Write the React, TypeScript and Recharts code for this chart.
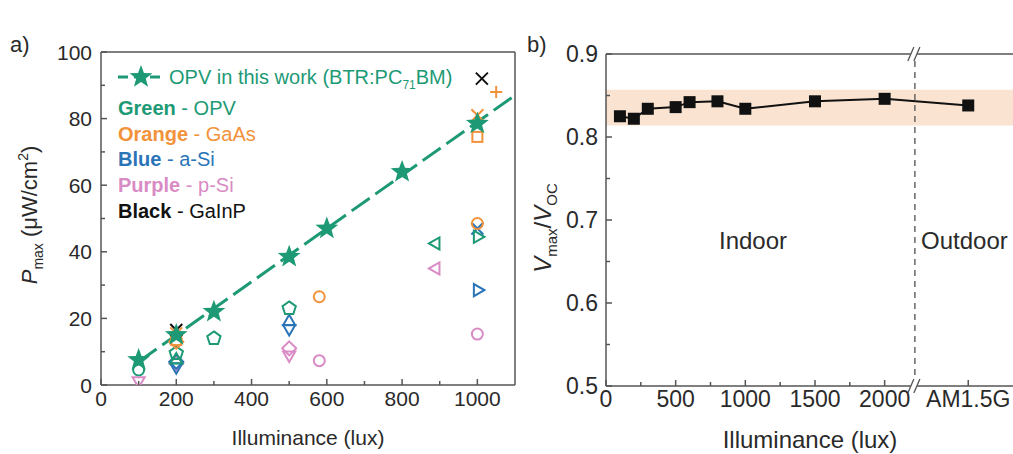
import React from 'react';
import {
  ComposedChart, Scatter, Line, XAxis, YAxis,
  ReferenceLine, ReferenceArea, ReferenceDot,
} from 'recharts';

// ---- panel a data (Pmax vs illuminance) ----
const opvLux = [100, 200, 300, 500, 600, 800, 1000];
const opvPmax = [7.5, 15, 22, 38.5, 47, 64, 78.5];
const fitLux = [100, 1100];
const fitPmax = [7, 87];

const opvCircleLux = [100];
const opvCirclePmax = [4.5];
const opvPentLux = [200, 300, 500];
const opvPentPmax = [9.5, 14, 23];
const opvTriUpLux = [200];
const opvTriUpPmax = [7.5];
const opvTriLeftLux = [890];
const opvTriLeftPmax = [42.5];
const opvTriRightLux = [1000];
const opvTriRightPmax = [44.5];

const gaasSquareLux = [200, 1000];
const gaasSquarePmax = [13.5, 74.5];
const gaasCircleLux = [580, 1000];
const gaasCirclePmax = [26.5, 48.5];
const gaasCrossLux = [200, 1000];
const gaasCrossPmax = [15.5, 81];
const gaasDiamondLux = [200];
const gaasDiamondPmax = [13];
const gaasPlusLux = [1050];
const gaasPlusPmax = [88];

const asiTriUpLux = [500];
const asiTriUpPmax = [19];
const asiTriDownLux = [200, 500];
const asiTriDownPmax = [5.5, 17];
const asiDiamondLux = [200];
const asiDiamondPmax = [7];
const asiTriRightLux = [1000];
const asiTriRightPmax = [28.5];
const asiCrossLux = [1000];
const asiCrossPmax = [47];

const psiTriDownLux = [100, 500];
const psiTriDownPmax = [1.3, 9];
const psiDiamondLux = [200, 500];
const psiDiamondPmax = [6.5, 11];
const psiCircleLux = [580, 1000];
const psiCirclePmax = [7.3, 15.3];
const psiTriLeftLux = [890];
const psiTriLeftPmax = [35];

const gainpCrossLux = [200, 1012];
const gainpCrossPmax = [16.5, 92];

const aXTicks = [0, 100, 200, 300, 400, 500, 600, 700, 800, 900, 1000];
const aXLabels = [0, 200, 400, 600, 800, 1000];
const aYTicks = [0, 10, 20, 30, 40, 50, 60, 70, 80, 90, 100];
const aYLabels = [0, 20, 40, 60, 80, 100];

// ---- panel b data (Vmax/Voc vs illuminance) ----
const vLux = [100, 200, 300, 500, 600, 800, 1000, 1500, 2000, 2600];
const vRatio = [0.825, 0.822, 0.834, 0.836, 0.842, 0.843, 0.834, 0.843, 0.846, 0.838];
const sunLux = 2600; // position used for AM1.5G
const breakLux = 2217;
const bandLow = 0.814;
const bandHigh = 0.857;
const bXTicks = [0, 250, 500, 750, 1000, 1250, 1500, 1750, 2000, 2600];
const bXLabels = ['0', '500', '1000', '1500', '2000'];
const bYTicks = [0.5, 0.55, 0.6, 0.65, 0.7, 0.75, 0.8, 0.85, 0.9];
const bYLabels = [0.5, 0.6, 0.7, 0.8, 0.9];

const GREEN = '#1d9a75';
const ORANGE = '#f2923a';
const BLUE = '#2a74b8';
const PURPLE = '#d98bc5';
const BLACK = '#111111';
const AXIS = '#555555';
const TEXT = '#2a2a2a';
const FONT = '"Liberation Sans", Arial, sans-serif';

const pairs = (xs: number[], ys: number[]) => xs.map((x, i) => ({ x, y: ys[i] }));

const polyPts = (cx: number, cy: number, r: number, n: number, rot: number) =>
  Array.from({ length: n }, (_, i) => {
    const a = rot + (i * 2 * Math.PI) / n;
    return `${cx + r * Math.cos(a)},${cy + r * Math.sin(a)}`;
  }).join(' ');

const starPts = (cx: number, cy: number, ro: number, ri: number) =>
  Array.from({ length: 10 }, (_, i) => {
    const a = -Math.PI / 2 + (i * Math.PI) / 5;
    const r = i % 2 === 0 ? ro : ri;
    return `${cx + r * Math.cos(a)},${cy + r * Math.sin(a)}`;
  }).join(' ');

const marker = (kind: string, color: string) => (p: any) => {
  const { cx, cy } = p;
  if (cx == null || cy == null) return <g />;
  const s = { fill: 'none', stroke: color, strokeWidth: 2 };
  switch (kind) {
    case 'star':
      return <polygon points={starPts(cx, cy, 12, 5)} fill={color} />;
    case 'circle':
      return <circle cx={cx} cy={cy} r={5.5} {...s} />;
    case 'square':
      return <rect x={cx - 5} y={cy - 5} width={10} height={10} {...s} />;
    case 'pentagon':
      return <polygon points={polyPts(cx, cy, 7, 5, -Math.PI / 2)} {...s} />;
    case 'triUp':
      return <polygon points={polyPts(cx, cy, 7, 3, -Math.PI / 2)} {...s} />;
    case 'triDown':
      return <polygon points={polyPts(cx, cy, 7, 3, Math.PI / 2)} {...s} />;
    case 'triLeft':
      return <polygon points={polyPts(cx, cy, 7, 3, Math.PI)} {...s} />;
    case 'triRight':
      return <polygon points={polyPts(cx, cy, 7, 3, 0)} {...s} />;
    case 'diamond':
      return <polygon points={polyPts(cx, cy, 7, 4, -Math.PI / 2)} {...s} />;
    case 'cross':
      return (
        <path d={`M${cx - 6},${cy - 6}L${cx + 6},${cy + 6}M${cx - 6},${cy + 6}L${cx + 6},${cy - 6}`} {...s} />
      );
    case 'plus':
      return <path d={`M${cx - 6},${cy}L${cx + 6},${cy}M${cx},${cy - 6}L${cx},${cy + 6}`} {...s} />;
    case 'square-filled':
      return <rect x={cx - 6} y={cy - 6} width={12} height={12} fill={color} />;
    default:
      return <g />;
  }
};

// custom ticks: inward tick marks, labels outside
const bottomTick = (majors: number[], fmt: (v: number) => string, fs: number, gap: number) => (p: any) => {
  const v = p.payload.value;
  const major = majors.includes(v);
  const label = fmt(v);
  return (
    <g>
      <line x1={p.x} x2={p.x} y1={p.y} y2={p.y - (major ? 6 : 4)} stroke={AXIS} strokeWidth={1.5} />
      {label !== '' && (
        <text x={p.x} y={p.y + gap} textAnchor="middle" dominantBaseline="hanging" fontSize={fs} fill={TEXT} fontFamily={FONT}>
          {label}
        </text>
      )}
    </g>
  );
};

const leftTick = (majors: number[], fmt: (v: number) => string, fs: number, gap: number) => (p: any) => {
  const v = p.payload.value;
  const major = majors.some((m) => Math.abs(m - v) < 1e-9);
  return (
    <g>
      <line x1={p.x} x2={p.x + (major ? 6 : 4)} y1={p.y} y2={p.y} stroke={AXIS} strokeWidth={1.5} />
      {major && (
        <text x={p.x - gap} y={p.y} textAnchor="end" dominantBaseline="central" fontSize={fs} fill={TEXT} fontFamily={FONT}>
          {fmt(v)}
        </text>
      )}
    </g>
  );
};

const topTick = (majors: number[]) => (p: any) => {
  const major = majors.includes(p.payload.value);
  return <line x1={p.x} x2={p.x} y1={p.y} y2={p.y + (major ? 6 : 4)} stroke={AXIS} strokeWidth={1.5} />;
};

const rightTick = (majors: number[]) => (p: any) => {
  const major = majors.some((m) => Math.abs(m - p.payload.value) < 1e-9);
  return <line x1={p.x} x2={p.x - (major ? 6 : 4)} y1={p.y} y2={p.y} stroke={AXIS} strokeWidth={1.5} />;
};

const breakMark = (p: any) => {
  const { cx, cy } = p;
  return (
    <g>
      <polygon points={`${cx - 7},${cy + 7} ${cx - 1},${cy - 7} ${cx + 5},${cy - 7} ${cx - 1},${cy + 7}`} fill="#fff" />
      <line x1={cx - 7} y1={cy + 7} x2={cx - 1} y2={cy - 7} stroke={AXIS} strokeWidth={1.3} />
      <line x1={cx - 1} y1={cy + 7} x2={cx + 5} y2={cy - 7} stroke={AXIS} strokeWidth={1.3} />
    </g>
  );
};

type Series = { lux: number[]; pmax: number[]; kind: string; color: string };
const aSeries: Series[] = [
  { lux: opvCircleLux, pmax: opvCirclePmax, kind: 'circle', color: GREEN },
  { lux: psiTriDownLux, pmax: psiTriDownPmax, kind: 'triDown', color: PURPLE },
  { lux: psiDiamondLux, pmax: psiDiamondPmax, kind: 'diamond', color: PURPLE },
  { lux: psiCircleLux, pmax: psiCirclePmax, kind: 'circle', color: PURPLE },
  { lux: psiTriLeftLux, pmax: psiTriLeftPmax, kind: 'triLeft', color: PURPLE },
  { lux: asiTriUpLux, pmax: asiTriUpPmax, kind: 'triUp', color: BLUE },
  { lux: asiTriDownLux, pmax: asiTriDownPmax, kind: 'triDown', color: BLUE },
  { lux: asiDiamondLux, pmax: asiDiamondPmax, kind: 'diamond', color: BLUE },
  { lux: asiTriRightLux, pmax: asiTriRightPmax, kind: 'triRight', color: BLUE },
  { lux: asiCrossLux, pmax: asiCrossPmax, kind: 'cross', color: BLUE },
  { lux: opvPentLux, pmax: opvPentPmax, kind: 'pentagon', color: GREEN },
  { lux: opvTriUpLux, pmax: opvTriUpPmax, kind: 'triUp', color: GREEN },
  { lux: opvTriLeftLux, pmax: opvTriLeftPmax, kind: 'triLeft', color: GREEN },
  { lux: opvTriRightLux, pmax: opvTriRightPmax, kind: 'triRight', color: GREEN },
  { lux: gaasSquareLux, pmax: gaasSquarePmax, kind: 'square', color: ORANGE },
  { lux: gaasCircleLux, pmax: gaasCirclePmax, kind: 'circle', color: ORANGE },
  { lux: gaasDiamondLux, pmax: gaasDiamondPmax, kind: 'diamond', color: ORANGE },
  { lux: gaasCrossLux, pmax: gaasCrossPmax, kind: 'cross', color: ORANGE },
  { lux: gaasPlusLux, pmax: gaasPlusPmax, kind: 'plus', color: ORANGE },
  { lux: gainpCrossLux, pmax: gainpCrossPmax, kind: 'cross', color: BLACK },
];

const axisLine = { stroke: AXIS, strokeWidth: 1.5 };

const PanelA = () => (
  <ComposedChart
    width={530}
    height={454}
    margin={{ top: 51, right: 14, bottom: 68, left: 100 }}
    style={{ position: 'absolute', left: 0, top: 0 }}
  >
    <XAxis
      dataKey="x" type="number" domain={[0, 1100]} ticks={aXTicks} interval={0}
      height={1} tickSize={0} tickMargin={0} allowDataOverflow
      axisLine={axisLine} tickLine={false}
      tick={bottomTick(aXLabels, (v) => (aXLabels.includes(v) ? String(v) : ''), 21, 6)}
    />
    <XAxis
      xAxisId="top" orientation="top" dataKey="x" type="number" domain={[0, 1100]} ticks={aXTicks}
      interval={0} height={1} tickSize={0} tickMargin={0}
      axisLine={axisLine} tickLine={false} tick={topTick(aXLabels)}
    />
    <YAxis
      dataKey="y" type="number" domain={[0, 100]} ticks={aYTicks} interval={0}
      width={1} tickSize={0} tickMargin={0} allowDataOverflow
      axisLine={axisLine} tickLine={false}
      tick={leftTick(aYLabels, (v) => String(v), 21, 9)}
    />
    <YAxis
      yAxisId="right" orientation="right" type="number" domain={[0, 100]} ticks={aYTicks}
      interval={0} width={1} tickSize={0} tickMargin={0}
      axisLine={axisLine} tickLine={false} tick={rightTick(aYLabels)}
    />
    {aSeries.map((s, i) => (
      <Scatter
        key={i}
        data={pairs(s.lux, s.pmax)}
        dataKey="y"
        shape={marker(s.kind, s.color)}
        isAnimationActive={false}
      />
    ))}
    <Line
      data={pairs(fitLux, fitPmax)}
      dataKey="y"
      type="linear"
      stroke={GREEN}
      strokeWidth={3}
      strokeDasharray="22 7"
      dot={false}
      isAnimationActive={false}
    />
    <Scatter data={pairs(opvLux, opvPmax)} dataKey="y" shape={marker('star', GREEN)} isAnimationActive={false} />
  </ComposedChart>
);

const PanelB = () => (
  <ComposedChart
    width={497}
    height={454}
    margin={{ top: 53, right: 10, bottom: 67, left: 75 }}
    style={{ position: 'absolute', left: 530, top: 0 }}
  >
    <ReferenceArea y1={bandLow} y2={bandHigh} fill="#f8d9c2" fillOpacity={0.75} stroke="none" ifOverflow="hidden" />
    <XAxis
      dataKey="x" type="number" domain={[0, 2950]} ticks={bXTicks} interval={0}
      height={1} tickSize={0} tickMargin={0} allowDataOverflow
      axisLine={axisLine} tickLine={false}
      tick={bottomTick([0, 500, 1000, 1500, 2000, sunLux], (v) => (v === sunLux ? 'AM1.5G' : bXLabels.includes(String(v)) ? String(v) : ''), 23, 4)}
    />
    <XAxis
      xAxisId="top" orientation="top" dataKey="x" type="number" domain={[0, 2950]} ticks={bXTicks}
      interval={0} height={1} tickSize={0} tickMargin={0}
      axisLine={axisLine} tickLine={false}
      tick={topTick([0, 500, 1000, 1500, 2000, sunLux])}
    />
    <YAxis
      dataKey="y" type="number" domain={[0.5, 0.9]} ticks={bYTicks} interval={0}
      width={1} tickSize={0} tickMargin={0} allowDataOverflow
      axisLine={axisLine} tickLine={false}
      tick={leftTick(bYLabels, (v) => v.toFixed(1), 23, 8)}
    />
    <ReferenceLine x={breakLux} stroke="#666" strokeWidth={1.5} strokeDasharray="6 5" />
    <Line
      data={pairs(vLux, vRatio)}
      dataKey="y"
      type="linear"
      stroke={BLACK}
      strokeWidth={2}
      dot={marker('square-filled', BLACK)}
      isAnimationActive={false}
    />
    <ReferenceDot x={breakLux} y={0.9} r={0} shape={breakMark} ifOverflow="visible" />
    <ReferenceDot x={breakLux} y={0.5} r={0} shape={breakMark} ifOverflow="visible" />
  </ComposedChart>
);

const Labels = () => (
  <svg width={1013} height={454} style={{ position: 'absolute', left: 0, top: 0, pointerEvents: 'none' }} fontFamily={FONT}>
    <text x={10} y={52} fontSize={22} fill={TEXT}>a)</text>
    <text x={527} y={52} fontSize={22} fill={TEXT}>b)</text>
    <text x={308} y={445} fontSize={21} fill={TEXT} textAnchor="middle">Illuminance (lux)</text>
    <text x={810} y={448} fontSize={24} fill={TEXT} textAnchor="middle">Illuminance (lux)</text>
    <text transform="translate(37,215) rotate(-90)" fontSize={22} fill={TEXT} textAnchor="middle">
      <tspan fontStyle="italic">P</tspan>
      <tspan fontSize={14} dy={6}>max</tspan>
      <tspan dy={-6}> (μW/cm</tspan>
      <tspan fontSize={14} dy={-9}>2</tspan>
      <tspan dy={9}>)</tspan>
    </text>
    <text transform="translate(551,228) rotate(-90)" fontSize={24} fill={TEXT} textAnchor="middle">
      <tspan fontStyle="italic">V</tspan>
      <tspan fontSize={15} dy={6}>max</tspan>
      <tspan dy={-6}>/</tspan>
      <tspan fontStyle="italic">V</tspan>
      <tspan fontSize={15} dy={6}>OC</tspan>
    </text>
    <text x={753} y={240} fontSize={24} fill={TEXT} textAnchor="middle" dominantBaseline="central">Indoor</text>
    <text x={921} y={240} fontSize={24} fill={TEXT} dominantBaseline="central">Outdoor</text>
  </svg>
);

const LegendA = () => {
  const row = (y: number, word: string, rest: string, color: string) => (
    <div style={{ position: 'absolute', left: 118, top: y - 12, fontSize: 20, color, whiteSpace: 'nowrap', lineHeight: '24px' }}>
      <b>{word}</b> - {rest}
    </div>
  );
  return (
    <div style={{ position: 'absolute', left: 0, top: 0, fontFamily: FONT }}>
      <svg width={50} height={26} style={{ position: 'absolute', left: 116, top: 64 }}>
        <line x1={2} y1={13} x2={48} y2={13} stroke={GREEN} strokeWidth={3} strokeDasharray="10 6" />
        <polygon points={starPts(25, 13, 12, 5)} fill={GREEN} />
      </svg>
      <div style={{ position: 'absolute', left: 169, top: 65, fontSize: 20, color: GREEN, whiteSpace: 'nowrap', lineHeight: '24px' }}>
        OPV in this work (BTR:PC<sub style={{ fontSize: 12 }}>71</sub>BM)
      </div>
      {row(108, 'Green', 'OPV', GREEN)}
      {row(134, 'Orange', 'GaAs', ORANGE)}
      {row(159, 'Blue', 'a-Si', BLUE)}
      {row(185, 'Purple', 'p-Si', PURPLE)}
      {row(211, 'Black', 'GaInP', BLACK)}
    </div>
  );
};

export default function App() {
  return (
    <div style={{ position: 'fixed', left: 0, top: 0, width: 1013, height: 454, overflow: 'hidden', background: '#fff', fontFamily: FONT }}>
      <PanelA />
      <PanelB />
      <Labels />
      <LegendA />
    </div>
  );
}
